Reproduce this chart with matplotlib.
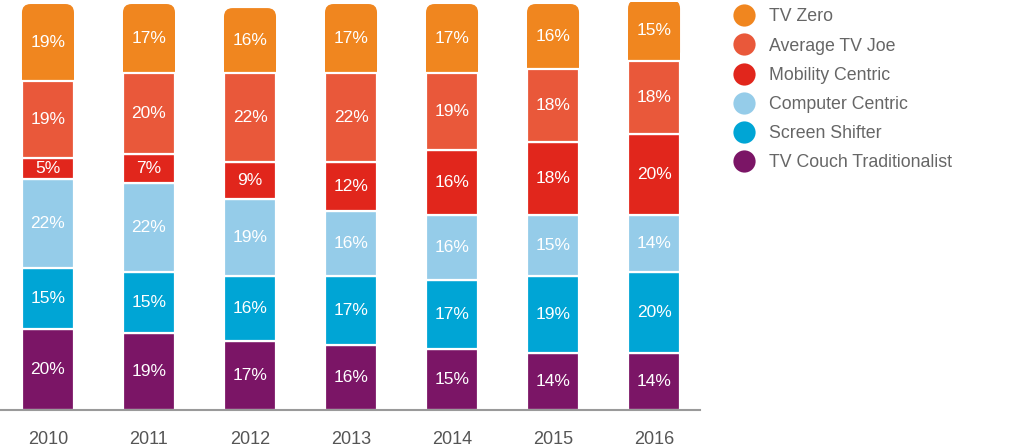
import numpy as np
import matplotlib.pyplot as plt
from matplotlib.patches import FancyBboxPatch, Rectangle
from matplotlib.lines import Line2D

plt.rcParams['font.family'] = ['Liberation Sans', 'DejaVu Sans']

years = ['2010', '2011', '2012', '2013', '2014', '2015', '2016']
# bottom to top
segments = ['TV Couch Traditionalist', 'Screen Shifter', 'Computer Centric',
            'Mobility Centric', 'Average TV Joe', 'TV Zero']
tv_couch = [20, 19, 17, 16, 15, 14, 14]
screen_shifter = [15, 15, 16, 17, 17, 19, 20]
computer_centric = [22, 22, 19, 16, 16, 15, 14]
mobility_centric = [5, 7, 9, 12, 16, 18, 20]
average_tv_joe = [19, 20, 22, 22, 19, 18, 18]
tv_zero = [19, 17, 16, 17, 17, 16, 15]
colors = ['#7b1566', '#00a5d5', '#95cce9', '#e1261c', '#e9583a', '#f0861f']

series = [tv_couch, screen_shifter, computer_centric,
          mobility_centric, average_tv_joe, tv_zero]

fig = plt.figure(figsize=(10.24, 4.48), dpi=100)
ax = fig.add_axes([0, 38 / 448, 700 / 1024, 408 / 448])

x = np.arange(len(years))
bottoms = np.zeros(len(years))
width = 0.515
for i, (vals, c) in enumerate(zip(series, colors)):
    vals = np.array(vals, dtype=float)
    bars = ax.bar(x, vals, bottom=bottoms, width=width, color=c,
                  edgecolor='white', linewidth=1.6, zorder=2)
    if i == len(series) - 1:
        # rounded top corners for the top segment
        r = 0.085
        aspect = (100.5 / 408) / (6.93 / 700)
        for b in bars:
            bx, by, bw, bh = b.get_x(), b.get_y(), b.get_width(), b.get_height()
            b.set_visible(False)
            ax.add_patch(FancyBboxPatch((bx, by), bw, bh,
                                        boxstyle=f"round,pad=0,rounding_size={r}",
                                        mutation_aspect=aspect, facecolor=c,
                                        edgecolor='none', zorder=1))
            ax.add_patch(Rectangle((bx, by), bw, bh / 2, facecolor=c,
                                   edgecolor='none', zorder=1))
    for xi, v, b0 in zip(x, vals, bottoms):
        ax.text(xi, b0 + v / 2, f"{int(v)}%", ha='center', va='center',
                color='white', fontsize=12.5, zorder=4)
    bottoms += vals

ax.set_xlim(-0.475, 6.455)
ax.set_ylim(0, 100.5)
for s in ['top', 'right', 'left']:
    ax.spines[s].set_visible(False)
ax.spines['bottom'].set_color('#9a9a9a')
ax.spines['bottom'].set_linewidth(1.5)
ax.spines['bottom'].set_zorder(5)
ax.set_yticks([])
ax.set_xticks(x)
ax.set_xticklabels(years, fontsize=13, color='#555555')
ax.tick_params(axis='x', length=0, pad=15)

handles = [Line2D([], [], marker='o', linestyle='none', markersize=16,
                  markerfacecolor=c, markeredgecolor='none')
           for c in colors[::-1]]
fig.legend(handles, segments[::-1], loc='upper left',
           bbox_to_anchor=(717 / 1024, 1.017), frameon=False, fontsize=12.8,
           labelcolor='#666666', handletextpad=0.8, labelspacing=0.685,
           handlelength=1.2)

fig.savefig('out.png', dpi=100)
